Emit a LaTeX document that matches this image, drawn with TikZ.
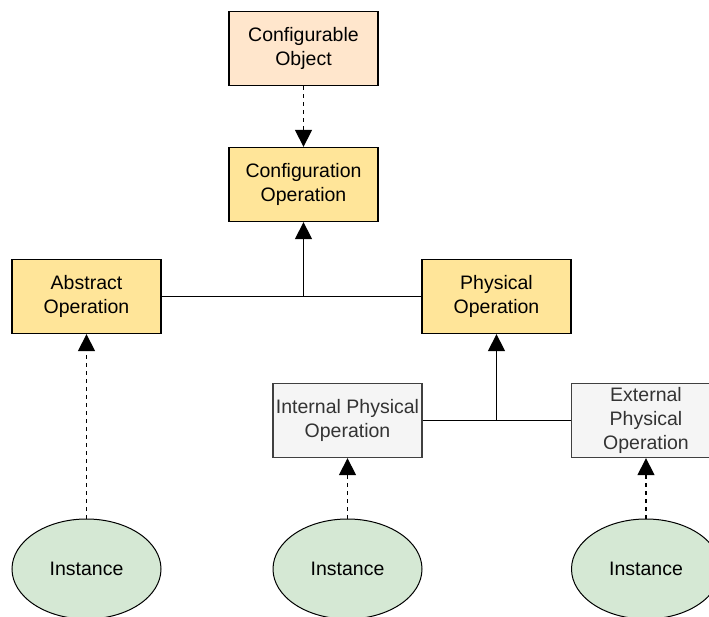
\documentclass[tikz,border=0pt]{standalone}
\usepackage{fontspec}
\setmainfont{Liberation Sans}
\usepackage{xcolor}
\usetikzlibrary{arrows.meta,shapes.geometric}

\definecolor{peach}{HTML}{FFE6CC}
\definecolor{gold}{HTML}{FFE599}
\definecolor{pale}{HTML}{F5F5F5}
\definecolor{sage}{HTML}{D5E8D4}
\definecolor{greytext}{HTML}{333333}

\begin{document}
\begin{tikzpicture}[x=1pt,y=-1pt,
		box/.style={draw,line width=1.3pt,minimum width=149pt,minimum height=74pt,inner sep=0pt,align=center,
			font=\fontsize{19.5}{24}\selectfont},
		opbox/.style={box,fill=gold},
		greybox/.style={box,fill=pale,draw=black!75,text=greytext},
		inst/.style={ellipse,draw,line width=1pt,fill=sage,minimum width=149pt,minimum height=100pt,inner sep=0pt,
			font=\fontsize{19.5}{24}\selectfont},
		tip/.style={-{Triangle[width=17pt,length=17pt]}},
		link/.style={line width=1.4pt},
		realize/.style={tip,line width=1.3pt,dash pattern=on 4pt off 4pt}]
	\clip (0,0) rectangle (709,616);
	\fill[white] (0,0) rectangle (709,616);

	% boxes
	\node[box,fill=peach] (cfgobj) at (303.5,48.5) {Configurable\\Object};
	\node[opbox] (cfgop) at (303.5,184.5) {Configuration\\Operation};
	\node[opbox] (absop) at (86.5,296.5) {Abstract\\Operation};
	\node[opbox] (physop) at (496.5,296.5) {Physical\\Operation};
	\node[greybox] (intop) at (347.5,420.5) {Internal Physical\\Operation};
	\node[greybox] (extop) at (646,420.5) {External\\Physical\\Operation};

	% instances
	\node[inst] (inst1) at (86.5,569) {Instance};
	\node[inst] (inst2) at (347.5,569) {Instance};
	\node[inst] (inst3) at (646,569) {Instance};

	% joints of the tree lines
	\coordinate (j1) at (cfgop.south |- absop.east);
	\coordinate (j2) at (physop.south |- intop.east);

	\draw[realize] (cfgobj) -- (cfgop);
	\draw[link] (absop.east) -- (j1) -- (physop.west);
	\draw[link,tip] (j1) -- (cfgop.south);
	\draw[link] (intop.east) -- (j2) -- (extop.west);
	\draw[link,tip] (j2) -- (physop.south);

	\draw[realize] (inst1) -- (absop);
	\draw[realize] (inst2) -- (intop);
	\draw[realize] (inst3) -- (extop);
\end{tikzpicture}
\end{document}
